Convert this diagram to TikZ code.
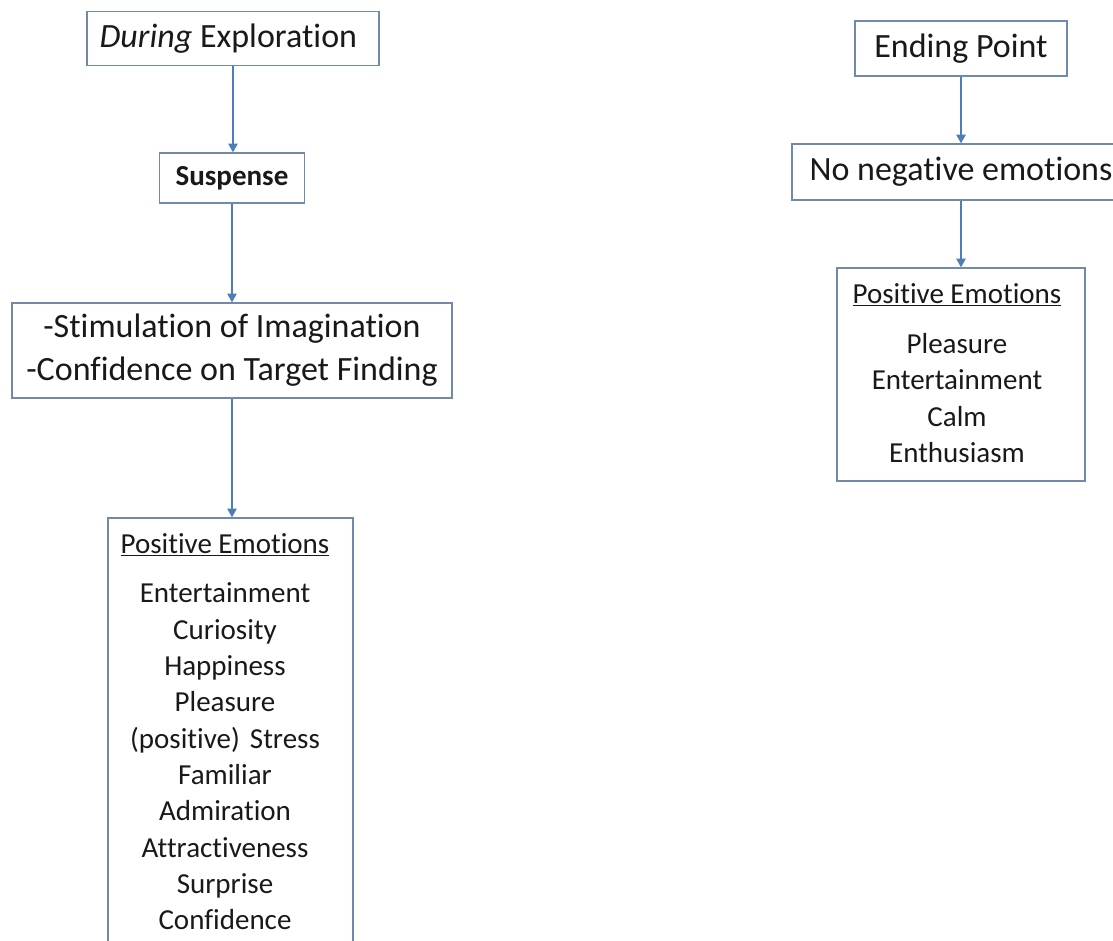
\documentclass[tikz,border=0pt]{standalone}
\usepackage{fontspec}
\setmainfont{Carlito}[Ligatures=NoCommon]
\usetikzlibrary{arrows.meta}
\definecolor{boxline}{RGB}{112,138,172}
\definecolor{flow}{RGB}{79,125,184}
\definecolor{ink}{RGB}{25,25,25}

\tikzset{
  box/.style={draw=boxline, line width=1pt, inner sep=0pt, text=ink, align=center},
  big/.style={font=\fontsize{25.5pt}{32.25pt}\selectfont},
  small/.style={font=\fontsize{21.75pt}{27.25pt}\selectfont},
  flowarrow/.style={draw=flow, line width=1pt, -{Triangle[width=7pt,length=6.5pt]}},
  list/.style={inner sep=0pt, text=ink, align=center, anchor=north, small},
}

\begin{document}
\begin{tikzpicture}[x=0.75pt, y=-0.75pt]
  \useasboundingbox (0,0) rectangle (1113,941);
  \clip (0,0) rectangle (1113,941);

  % left column: during exploration
  \node[box, big, minimum width=219pt, minimum height=40.5pt] (dur) at (233,38.5)
    {\textit{During} Exploration\hspace{7pt}};
  \node[box, small, minimum width=108.75pt, minimum height=37.5pt] (sus) at (232,178)
    {\textbf{Suspense}};
  \node[box, big, minimum width=330pt, minimum height=71.25pt] (stim) at (232,350.5)
    {-Stimulation of Imagination\\-Confidence on Target Finding};
  \node[box, minimum width=183.75pt, minimum height=331.5pt] (peL) at (230.5,739) {};
  \node[list] (peLtext) at (225,533) {\underline{Positive Emotions}\\[10pt]
    Entertainment\\ Curiosity\\ Happiness\\ Pleasure\\
    (positive)\hspace{0.35em}Stress\\ Familiar\\ Admiration\\ Attractiveness\\
    Surprise\\ Confidence};

  % right column: ending point
  \node[box, big, minimum width=159pt, minimum height=41.25pt] (end) at (961,48.5)
    {Ending Point};
  \node[box, big, minimum width=253.5pt, minimum height=42pt] (nne) at (961,172)
    {No negative emotions};
  \node[box, minimum width=186pt, minimum height=159.75pt] (peR) at (961,374.5) {};
  \node[list] (peRtext) at (957,283) {\underline{Positive Emotions}\\[10.5pt]
    Pleasure\\ Entertainment\\ Calm\\ Enthusiasm};

  % connectors
  \draw[flowarrow] (dur.south) -- (dur.south |- sus.north);
  \draw[flowarrow] (sus.south) -- (sus.south |- stim.north);
  \draw[flowarrow] (stim.south) -- (stim.south |- peL.north);
  \draw[flowarrow] (end.south) -- (end.south |- nne.north);
  \draw[flowarrow] (nne.south) -- (nne.south |- peR.north);
\end{tikzpicture}
\end{document}
